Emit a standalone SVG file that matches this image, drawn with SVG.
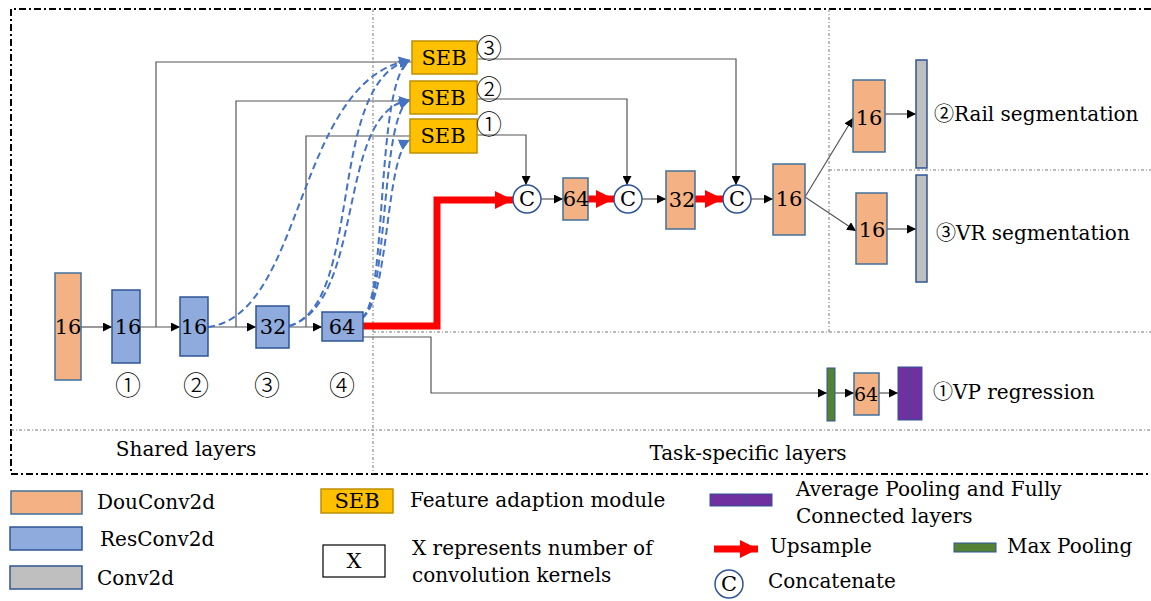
<svg xmlns="http://www.w3.org/2000/svg" width="1151" height="601" viewBox="0 0 1151 601">
<style>
text{font-family:"DejaVu Serif","Noto Sans CJK SC",serif;fill:#000}
.lbl{font-size:20px}
.num{font-size:21px;text-anchor:middle;dominant-baseline:central}
.circ{font-size:26px;text-anchor:middle;dominant-baseline:central;font-family:"Noto Sans CJK SC","DejaVu Sans",sans-serif;font-weight:300}
.dou{fill:#F4B183;stroke:#41719C;stroke-width:1.5}
.res{fill:#8FAADC;stroke:#2F5597;stroke-width:1.5}
.cv{fill:#BFBFBF;stroke:#2F5597;stroke-width:1.5}
.seb{fill:#FFC000;stroke:#BF9000;stroke-width:1.5}
.mp{fill:#548235;stroke:#2F5597;stroke-width:1}
.fc{fill:#7030A0;stroke:#2F5597;stroke-width:1}
.cc{fill:#fff;stroke:#2F5597;stroke-width:1.5}
.ln{fill:none;stroke:#555;stroke-width:1.2}
.red{fill:none;stroke:#FF0000;stroke-width:7}
.dash{fill:none;stroke:#4472C4;stroke-width:2;stroke-dasharray:7,4}
.border{fill:none;stroke:#000;stroke-width:2;stroke-dasharray:7,3,2,3}
.sep{fill:none;stroke:#777;stroke-width:1;stroke-dasharray:3,2,1,2}
</style>
<defs>
<marker id="ab" markerUnits="userSpaceOnUse" markerWidth="9" markerHeight="9" refX="9" refY="4.5" orient="auto"><path d="M0,0 L9,4.5 L0,9 z" fill="#000"/></marker>
<marker id="ablue" markerUnits="userSpaceOnUse" markerWidth="11" markerHeight="11" refX="11" refY="5.5" orient="auto"><path d="M0,0 L11,5.5 L0,11 z" fill="#4472C4"/></marker>
<marker id="ared" markerUnits="userSpaceOnUse" markerWidth="18" markerHeight="18" refX="18" refY="9" orient="auto"><path d="M0,0 L18,9 L0,18 z" fill="#FF0000"/></marker>
</defs>

<g id="frame">
<path class="border" d="M1151,9 H11 V474 H1151"/>
<path class="sep" d="M373,9 V474"/>
<path class="sep" d="M11,430 H1151"/>
<path class="sep" d="M373,332 H1151"/>
<path class="sep" d="M829,9 V332"/>
<path class="sep" d="M829,170 H1151"/>
</g>

<g id="connectors">
<path class="ln" d="M81,327 H112" marker-end="url(#ab)"/>
<path class="ln" d="M140,327 H180" marker-end="url(#ab)"/>
<path class="ln" d="M208,327 H256" marker-end="url(#ab)"/>
<path class="ln" d="M289,327 H322" marker-end="url(#ab)"/>
<path class="ln" d="M156,327 V62 H412"/>
<path class="ln" d="M236,327 V101 H410"/>
<path class="ln" d="M306,327 V136 H410"/>
<path class="dash" d="M208,327 C305,315 295,80 410,60" marker-end="url(#ablue)"/>
<path class="dash" d="M289,326 C365,305 325,80 410,60" marker-end="url(#ablue)"/>
<path class="dash" d="M289,326 C367,303 335,110 410,100" marker-end="url(#ablue)"/>
<path class="dash" d="M362,318 C388,300 375,80 410,60" marker-end="url(#ablue)"/>
<path class="dash" d="M362,318 C389,300 380,112 410,100" marker-end="url(#ablue)"/>
<path class="dash" d="M362,318 C390,300 385,152 410,140" marker-end="url(#ablue)"/>
<path class="ln" d="M477,59 H736 V185" marker-end="url(#ab)"/>
<path class="ln" d="M477,99 H627 V185" marker-end="url(#ab)"/>
<path class="ln" d="M477,135 H526 V185" marker-end="url(#ab)"/>
<path class="red" d="M362,326 H437 V200 H513" marker-end="url(#ared)"/>
<path class="red" d="M588,199 H614" marker-end="url(#ared)"/>
<path class="red" d="M695,199 H723" marker-end="url(#ared)"/>
<path class="ln" d="M541,199 H563" marker-end="url(#ab)"/>
<path class="ln" d="M642,199 H666" marker-end="url(#ab)"/>
<path class="ln" d="M751,199 H773" marker-end="url(#ab)"/>
<path class="ln" d="M805,197 L853,118" marker-end="url(#ab)"/>
<path class="ln" d="M805,197 L856,231" marker-end="url(#ab)"/>
<path class="ln" d="M885,114 H916" marker-end="url(#ab)"/>
<path class="ln" d="M887,229 H916" marker-end="url(#ab)"/>
<path class="ln" d="M363,337 H431 V393 H827" marker-end="url(#ab)"/>
<path class="ln" d="M835,393 H854" marker-end="url(#ab)"/>
<path class="ln" d="M879,393 H898" marker-end="url(#ab)"/>
</g>

<g id="n-dou16"><rect class="dou" x="55" y="273" width="26" height="107"/><text class="num" x="68" y="327">16</text></g>
<g id="n-res1"><rect class="res" x="112" y="290" width="28" height="73"/><text class="num" x="128" y="327">16</text><text class="circ" x="128" y="383">①</text></g>
<g id="n-res2"><rect class="res" x="180" y="297" width="28" height="59"/><text class="num" x="194" y="327">16</text><text class="circ" x="196" y="383">②</text></g>
<g id="n-res3"><rect class="res" x="256" y="306" width="33" height="42"/><text class="num" x="273" y="327">32</text><text class="circ" x="267" y="383">③</text></g>
<g id="n-res4"><rect class="res" x="322" y="312" width="41" height="29"/><text class="num" x="342" y="327">64</text><text class="circ" x="342" y="383">④</text></g>

<g id="n-seb3"><rect class="seb" x="412" y="41" width="65" height="33"/><text class="num" x="444" y="58">SEB</text><text class="circ" x="489" y="46">③</text></g>
<g id="n-seb2"><rect class="seb" x="410" y="81" width="67" height="33"/><text class="num" x="443" y="98">SEB</text><text class="circ" x="489" y="87">②</text></g>
<g id="n-seb1"><rect class="seb" x="410" y="119" width="67" height="34"/><text class="num" x="443" y="136">SEB</text><text class="circ" x="489" y="122">①</text></g>

<g id="n-c1"><circle class="cc" cx="527" cy="199" r="14"/><text class="num" x="527" y="199">C</text></g>
<g id="n-up64"><rect class="dou" x="563" y="178" width="25" height="42"/><text class="num" x="576" y="199">64</text></g>
<g id="n-c2"><circle class="cc" cx="628" cy="199" r="14"/><text class="num" x="628" y="199">C</text></g>
<g id="n-up32"><rect class="dou" x="666" y="171" width="29" height="58"/><text class="num" x="682" y="200">32</text></g>
<g id="n-c3"><circle class="cc" cx="737" cy="199" r="14"/><text class="num" x="737" y="199">C</text></g>
<g id="n-up16"><rect class="dou" x="773" y="164" width="32" height="71"/><text class="num" x="789" y="199">16</text></g>

<g id="n-rail"><rect class="dou" x="853" y="80" width="32" height="72"/><text class="num" x="869" y="118">16</text><rect class="cv" x="916" y="60" width="11" height="108"/><text class="lbl" x="934" y="121">②Rail segmentation</text></g>
<g id="n-vr"><rect class="dou" x="856" y="193" width="31" height="71"/><text class="num" x="872" y="230">16</text><rect class="cv" x="916" y="175" width="11" height="107"/><text class="lbl" x="936" y="240">③VR segmentation</text></g>

<g id="n-vp"><rect class="mp" x="827" y="368" width="8" height="53"/><rect class="dou" x="854" y="373" width="25" height="42"/><text class="num" x="866" y="394" style="font-size:19px">64</text><rect class="fc" x="898" y="367" width="24" height="53"/><line x1="910" y1="367" x2="910" y2="420" stroke="#2F5597" stroke-width="1"/><text class="lbl" x="933" y="399">①VP regression</text></g>

<g id="labels">
<text class="lbl" x="186" y="456" text-anchor="middle">Shared layers</text>
<text class="lbl" x="748" y="460" text-anchor="middle">Task-specific layers</text>
</g>

<g id="legend">
<rect class="dou" x="11" y="491" width="71" height="23"/><text class="lbl" x="97" y="509">DouConv2d</text>
<rect class="res" x="10" y="527" width="72" height="23"/><text class="lbl" x="100" y="546">ResConv2d</text>
<rect class="cv" x="10" y="566" width="72" height="23"/><text class="lbl" x="97" y="585">Conv2d</text>
<rect class="seb" x="321" y="489" width="72" height="24"/><text class="num" x="357" y="501">SEB</text><text class="lbl" x="410" y="507">Feature adaption module</text>
<rect x="323" y="545" width="62" height="32" fill="#fff" stroke="#000" stroke-width="1.2"/><text class="num" x="354" y="561">X</text>
<text class="lbl" x="412" y="555">X represents number of</text><text class="lbl" x="412" y="582">convolution kernels</text>
<rect class="fc" x="710" y="494" width="62" height="12"/><line x1="746" y1="494" x2="746" y2="506" stroke="#2F5597" stroke-width="1"/>
<text class="lbl" x="796" y="496">Average Pooling and Fully</text><text class="lbl" x="796" y="523">Connected layers</text>
<path class="red" d="M714,549 H758" marker-end="url(#ared)"/><text class="lbl" x="770" y="553">Upsample</text>
<rect class="mp" x="954" y="543" width="42" height="9"/><text class="lbl" x="1007" y="553">Max Pooling</text>
<circle class="cc" cx="729" cy="584" r="14"/><text class="num" x="729" y="584">C</text><text class="lbl" x="768" y="588">Concatenate</text>
</g>
</svg>
